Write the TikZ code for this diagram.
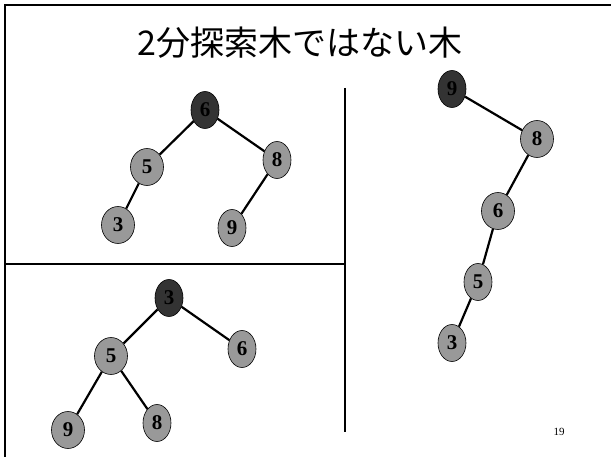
\documentclass[tikz,border=0pt]{standalone}
\usepackage{fontspec}
\setmainfont{Liberation Serif}
\newfontfamily\jpfont{Noto Sans CJK JP}
\usetikzlibrary{shapes.geometric}

\begin{document}
\begin{tikzpicture}[x=1pt, y=-1pt,
  key/.style={ellipse, draw, line width=0.6pt, fill=black!40, inner sep=0pt,
    minimum width=28pt, minimum height=37pt,
    font=\fontsize{21}{21}\selectfont\bfseries},
  wide/.style={minimum width=33pt},
  root/.style={key, fill=black!80},
  link/.style={line width=2.2pt}]
  \useasboundingbox (0,0) rectangle (611,457);
  % frame and dividers
  \draw[line width=2.6pt] (5,457) -- (5,5) -- (611,5);
  \draw[line width=2.6pt] (345,88) -- (345,432);
  \draw[line width=2.6pt] (5,264) -- (345,264);
  \node (title) at (300,43) {\jpfont\fontsize{34}{34}\selectfont 2分探索木ではない木};

  % upper left
  \node[root] (a6) at (205,110) {6};
  \node[key, wide] (a5) at (147,167) {5};
  \node[key] (a8) at (277,160) {8};
  \node[key, wide] (a3) at (118,225) {3};
  \node[key] (a9) at (232,228) {9};
  \draw[link] (a6) -- (a5);
  \draw[link] (a6) -- (a8);
  \draw[link] (a5) -- (a3);
  \draw[link] (a8) -- (a9);

  % lower left
  \node[root] (b3) at (169,298) {3};
  \node[key, wide] (b5) at (111,356) {5};
  \node[key] (b6) at (242,349) {6};
  \node[key, wide] (b9) at (68,430) {9};
  \node[key] (b8) at (157,423) {8};
  \draw[link] (b3) -- (b5);
  \draw[link] (b3) -- (b6);
  \draw[link] (b5) -- (b9);
  \draw[link] (b5) -- (b8);

  % right
  \node[root] (c9) at (452,89) {9};
  \node[key, wide] (c8) at (537,139) {8};
  \node[key, wide] (c6) at (498,211) {6};
  \node[key] (c5) at (478,282) {5};
  \node[key] (c3) at (452,343) {3};
  \draw[link] (c9) -- (c8);
  \draw[link] (c8) -- (c6);
  \draw[link] (c6) -- (c5);
  \draw[link] (c5) -- (c3);

  \node[font=\fontsize{11}{11}\selectfont] (page) at (559,432) {19};
\end{tikzpicture}
\end{document}
